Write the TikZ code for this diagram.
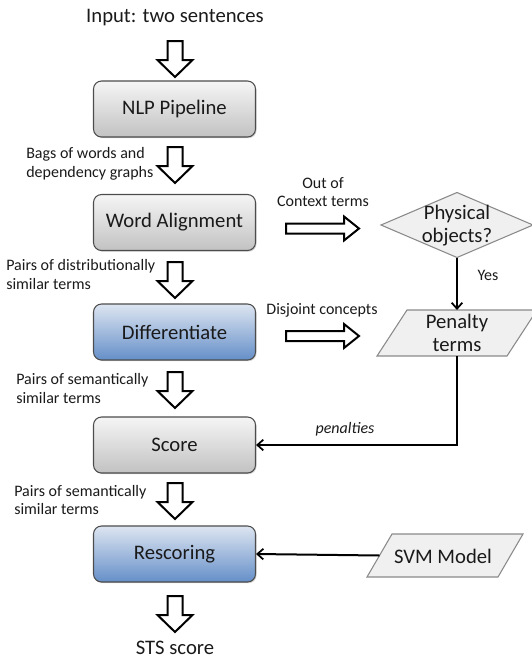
\documentclass[tikz,border=0pt]{standalone}
\usepackage{fontspec}
\setmainfont{Carlito}
\usetikzlibrary{arrows.meta,shadows}
\definecolor{gtop}{HTML}{F5F5F5}
\definecolor{gbot}{HTML}{C2C2C2}
\definecolor{btop}{HTML}{DDE5F1}
\definecolor{bbot}{HTML}{658FC8}
\definecolor{shapefill}{HTML}{F0F0F0}
\definecolor{shapeline}{HTML}{8A8A8A}
\definecolor{txt}{HTML}{1A1A1A}
\begin{document}
\begin{tikzpicture}[x=0.75pt,y=-0.75pt,
  proc/.style={draw=black!70, line width=0.8pt, rounded corners=6pt,
    minimum width=121.5pt, minimum height=42pt, text=txt,
    font=\fontsize{15.5}{18}\selectfont,
    drop shadow={opacity=0.35,shadow xshift=0.8pt,shadow yshift=-0.9pt}},
  grayproc/.style={proc, top color=gtop, bottom color=gbot},
  blueproc/.style={proc, top color=btop, bottom color=bbot},
  lab/.style={font=\fontsize{12}{14}\selectfont, align=left, inner sep=0pt, text=txt},
  clab/.style={lab, align=center},
  big/.style={font=\fontsize{15.5}{17.2}\selectfont, align=center, inner sep=0pt, text=txt},
  blockarr/.style={draw=black, line width=1.5pt, fill=white, line join=miter},
  conn/.style={draw=black, line width=1.5pt, -{Straight Barb[length=4.5pt,width=8pt,line width=1.3pt]}},
  flowshape/.style={draw=shapeline, fill=shapefill, line width=0.8pt, line join=miter},
  downarrow/.pic={\draw[blockarr] (-7.5,0) -- (7.5,0) -- (7.5,19) -- (17.5,19) -- (0,36) -- (-17.5,19) -- (-7.5,19) -- cycle;},
  rightarrow/.pic={\draw[blockarr] (0,-5) -- (58,-5) -- (58,-12) -- (73,0) -- (58,12) -- (58,5) -- (0,5) -- cycle;}
]
\useasboundingbox (0,0) rectangle (532,658);

% main column
\node[big] (input) at (175,18) {Input: two sentences};
\pic at (175,41) {downarrow};
\node[grayproc] (nlp) at (174.5,109) {NLP Pipeline};
\pic at (175,147) {downarrow};
\node[lab, anchor=west] (l1) at (26,164) {Bags of words and\\dependency graphs};
\node[grayproc] (align) at (174.5,222.5) {Word Alignment};
\pic at (175,262) {downarrow};
\node[lab, anchor=west] (l2) at (6,274.5) {Pairs of distributionally\\similar terms};
\node[blueproc] (diff) at (174.5,332) {Differentiate};
\pic at (175,372) {downarrow};
\node[lab, anchor=west] (l3) at (16,388.5) {Pairs of semantically\\similar terms};
\node[grayproc] (score) at (174.5,445) {Score};
\pic at (175,483) {downarrow};
\node[lab, anchor=west] (l4) at (14,500) {Pairs of semantically\\similar terms};
\node[blueproc] (resc) at (174.5,554) {Rescoring};
\pic at (175,596) {downarrow};
\node[big] (sts) at (175,648) {STS score};

% right side
\node[clab] (l5) at (323,192) {Out of\\Context terms};
\pic at (286,228.5) {rightarrow};
\draw[flowshape] (381,225) -- (457,192.5) -- (533,225) -- (457,257.5) -- cycle;
\coordinate (physS) at (457,257.5);
\node[big] (physt) at (457,225.5) {Physical\\objects?};
\node[lab] (yes) at (488,275) {Yes};
\node[lab] (l6) at (322,310) {Disjoint concepts};
\pic at (286,336) {rightarrow};
\draw[flowshape] (377,356) -- (407,310) -- (537,310) -- (507,356) -- cycle;
\coordinate (penN) at (457,310);
\coordinate (penS) at (457,356);
\node[big] (pent) at (457,333) {Penalty\\terms};
\node[lab, font=\fontsize{12}{14}\selectfont\itshape] (pl) at (345,429) {penalties};
\draw[flowshape] (367,577) -- (392,534) -- (523,534) -- (498,577) -- cycle;
\coordinate (svmW) at (379.5,555.5);
\node[big] (svmt) at (443,556) {SVM Model};

% connectors
\draw[conn] (physS) -- (penN);
\draw[conn] (penS) |- (score.east);
\draw[conn] (svmW) -- (resc.east);
\end{tikzpicture}
\end{document}
